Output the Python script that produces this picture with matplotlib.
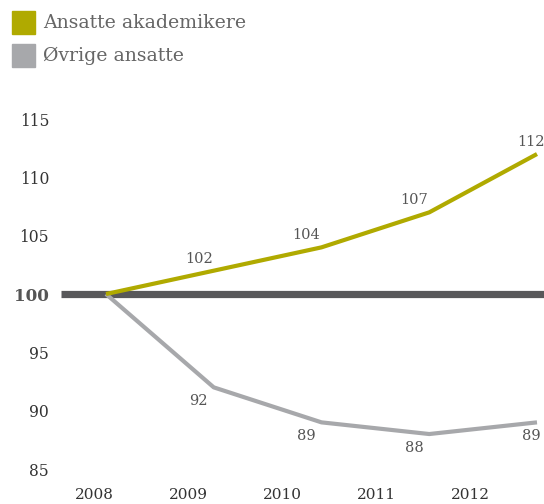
import matplotlib
matplotlib.use("Agg")
import matplotlib.pyplot as plt
from matplotlib.patches import Rectangle

years = ["2008", "2009", "2010", "2011", "2012"]
akademikere = [100, 102, 104, 107, 112]
ovrige = [100, 92, 89, 88, 89]
series_names = ["Ansatte akademikere", "Øvrige ansatte"]
yticks = [85, 90, 95, 100, 105, 110, 115]

GOLD = "#b0aa00"
GREY = "#a7a8ab"
BASE = "#58585a"

plt.rcParams["font.family"] = ["DejaVu Serif"]

W, H = 544, 504
fig = plt.figure(figsize=(W / 100, H / 100), dpi=100)

ax = fig.add_axes([61 / W, 24 / H, 1 - 61 / W, 380 / H])
x = list(range(len(years)))
ax.set_xlim(-0.4176, 4.065)
ax.set_ylim(84.06, 116.63)

ax.axhline(100, color=BASE, lw=5.2, zorder=1, solid_capstyle="butt")
ax.plot(x, akademikere, color=GOLD, lw=3, zorder=3, solid_capstyle="butt")
ax.plot(x, ovrige, color=GREY, lw=3, zorder=2, solid_capstyle="butt")

for i in range(1, len(years)):
    dx = -15 if i < len(years) - 1 else -6
    ax.annotate(str(akademikere[i]), (x[i], akademikere[i]), xytext=(dx, 12),
                textcoords="offset pixels", ha="center", va="center",
                fontsize=10.5, color="#555555", annotation_clip=False)
    ax.annotate(str(ovrige[i]), (x[i], ovrige[i]), xytext=(dx, -14),
                textcoords="offset pixels", ha="center", va="center",
                fontsize=10.5, color="#555555", annotation_clip=False)

for s in ax.spines.values():
    s.set_visible(False)

ax.set_yticks(yticks)
ax.set_yticklabels([str(v) for v in yticks])
ax.tick_params(axis="y", length=0, pad=8.5, labelsize=11.2, labelcolor="#333333")
for lab in ax.get_yticklabels():
    if lab.get_text() == "100":
        lab.set_fontweight("bold")
        lab.set_fontsize(12.2)
        lab.set_color("#555555")

ax.set_xticks([-0.11 + i * 0.872 for i in range(len(years))])
ax.set_xticklabels(years)
ax.tick_params(axis="x", length=0, pad=6, labelsize=11, labelcolor="#333333")

# legend
for j, (name, col) in enumerate(zip(series_names, [GOLD, GREY])):
    y0 = 1 - (34 + j * 33) / H
    fig.patches.append(Rectangle((12 / W, y0), 23 / W, 23 / H, transform=fig.transFigure,
                                 color=col, zorder=5))
    fig.text(43 / W, y0 + 11.5 / H, name, fontsize=13.6, color="#666666", va="center", ha="left")

fig.savefig("out.png", dpi=100)
